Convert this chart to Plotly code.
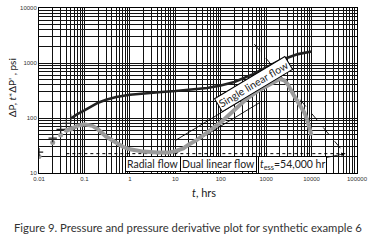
import plotly.graph_objects as go

# ---- data ----
t_p_early = [0.01, 0.02, 0.03, 0.04, 0.05]
p_early = [24, 43, 62, 80, 98]

t_p = [0.05, 0.07, 0.1, 0.2, 0.3, 0.5, 1, 2, 5, 10, 20, 50, 100, 200, 500, 1000, 2000, 5000, 10000]
p_vals = [98, 118, 137, 190, 215, 240, 265, 282, 298, 310, 325, 352, 390, 450, 620, 820, 1110, 1450, 1620]

t_d_early = [0.01, 0.02, 0.03, 0.04, 0.05]
d_early = [20, 36, 49, 60, 63]

t_d = [0.04, 0.05, 0.07, 0.1, 0.15, 0.2, 0.3, 0.5, 0.7, 1, 2, 4, 7, 10, 15, 20, 30, 50, 100, 200, 380,
       700, 1000, 1500, 2000, 2500, 3000, 4000, 5000, 6000, 7000, 8000, 9000, 10000]
d_vals = [60, 63, 72, 77, 72, 62, 46, 35, 30, 27, 24.5, 23.5, 23.5, 25, 28, 33, 40, 54, 83, 140, 225,
          320, 380, 460, 510, 485, 410, 265, 195, 153, 124, 92, 66, 48]

# straight reference lines (end points)
radial_t = [0.04, 60000]
radial_d = [22.5, 22.5]
dual_t = [10, 700]
dual_d = [22.5, 188]
single_t = [10, 2500]
single_d = [39, 620]
pss_t = [550, 54000]
pss_d = [2200, 22.5]

x_ticks = [0.01, 0.1, 1, 10, 100, 1000, 10000, 100000]
x_ticktext = ["0.01", "0.1", "1", "10", "100", "1000", "10000", "100000"]
y_ticks = [10, 100, 1000, 10000]
y_ticktext = ["10", "100", "1000", "10000"]

fig = go.Figure()

thin = dict(color="black", width=0.9)
fig.add_trace(go.Scatter(x=radial_t, y=radial_d, mode="lines", line=dict(color="black", width=1, dash="dot")))
fig.add_trace(go.Scatter(x=dual_t, y=dual_d, mode="lines", line=thin))
fig.add_trace(go.Scatter(x=single_t, y=single_d, mode="lines", line=thin))
fig.add_trace(go.Scatter(x=pss_t, y=pss_d, mode="lines", line=dict(color="black", width=0.9, dash="dash")))

fig.add_trace(go.Scatter(x=t_d, y=d_vals, mode="lines", line=dict(color="#9a9a9a", width=4)))
fig.add_trace(go.Scatter(x=t_d_early, y=d_early, mode="markers",
                         marker=dict(color="#9a9a9a", size=5)))
fig.add_trace(go.Scatter(x=t_p, y=p_vals, mode="lines", line=dict(color="#222222", width=2.6)))
fig.add_trace(go.Scatter(x=t_p_early, y=p_early, mode="markers",
                         marker=dict(color="#222222", size=6, symbol="cross-thin",
                                     line=dict(color="#222222", width=1.2))))

minor_x = [m * 10 ** e for e in range(-2, 5) for m in range(2, 10)]
minor_y = [m * 10 ** e for e in range(1, 4) for m in range(2, 10)]

tickfont = dict(family="Liberation Sans, Arial", size=6, color="#333")
fig.update_xaxes(type="log", range=[-2, 5], tickvals=x_ticks, ticktext=x_ticktext,
                 showgrid=True, gridcolor="#111", gridwidth=1, showline=True, mirror=True,
                 linecolor="black", linewidth=1, ticks="", tickfont=tickfont, zeroline=False,
                 minor=dict(tickvals=minor_x, showgrid=True, gridcolor="#111", gridwidth=1, ticks=""))
fig.update_yaxes(type="log", range=[1, 4], tickvals=y_ticks, ticktext=y_ticktext,
                 showgrid=True, gridcolor="#111", gridwidth=1, showline=True, mirror=True,
                 linecolor="black", linewidth=1, ticks="", tickfont=tickfont, zeroline=False,
                 minor=dict(tickvals=minor_y, showgrid=True, gridcolor="#111", gridwidth=1, ticks=""))

lab_font = dict(family="Lato", size=10.5, color="#222")
box = dict(bgcolor="white", bordercolor="black", borderwidth=1, borderpad=1, showarrow=False,
           font=lab_font, xanchor="center", yanchor="middle")
anns = [
    dict(text="Radial flow", x=0.36, y=0.055, xref="paper", yref="paper", **box),
    dict(text="Dual linear flow", x=0.565, y=0.055, xref="paper", yref="paper", **box),
    dict(text="Single linear flow", x=0.675, y=0.54, xref="paper", yref="paper", textangle=-31, **box),
    dict(text="<i>t</i><sub>ess</sub>=54,000 hr", x=4.732, y=1.352, xref="x", yref="y",
         ax=-52, ay=11, showarrow=True, arrowhead=2, arrowsize=0.9, arrowwidth=0.8, arrowcolor="black",
         bgcolor="white", bordercolor="black", borderwidth=1, borderpad=1, font=lab_font),
    dict(text="ΔP, <i>t</i>*ΔP' , psi", x=-0.085, y=0.52, xref="paper", yref="paper", textangle=-90,
         showarrow=False, xanchor="center", yanchor="middle",
         font=dict(family="Lato", size=10, color="#222")),
    dict(text="<i>t</i>, hrs", x=0.519, y=-0.12, xref="paper", yref="paper", showarrow=False,
         xanchor="center", yanchor="middle",
         font=dict(family="Lato", size=11, color="#222")),
    dict(text="Figure 9. Pressure and pressure derivative plot for synthetic example 6",
         x=0.47, y=-0.333, xref="paper", yref="paper", showarrow=False,
         xanchor="center", yanchor="middle",
         font=dict(family="Lato", size=11.3, color="#333")),
]

fig.update_layout(
    width=375, height=243, showlegend=False,
    margin=dict(l=39, r=18, t=5, b=70),
    plot_bgcolor="white", paper_bgcolor="white",
    annotations=anns,
)

fig.write_html("out.html", config={"displayModeBar": False, "staticPlot": True},
               post_script="document.body.style.margin='0';")
